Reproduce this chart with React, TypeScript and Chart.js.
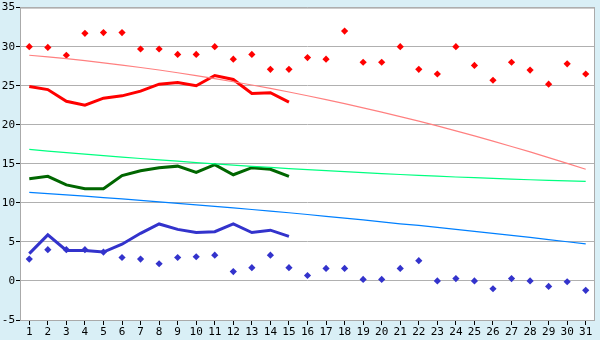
import React, { useEffect, useRef } from "react";
import { Chart, registerables } from "chart.js";

Chart.register(...registerables);

const days = Array.from({ length: 31 }, (_, i) => String(i + 1));

const maxObs = [30.0, 29.9, 28.9, 31.7, 31.8, 31.8, 29.7, 29.7, 29.0, 29.0, 30.0, 28.4, 29.0, 27.1, 27.1,
  28.6, 28.4, 32.0, 28.0, 28.0, 30.0, 27.1, 26.5, 30.0, 27.6, 25.7, 28.0, 27.0, 25.2, 27.8, 26.5];
const minObs = [2.8, 4.0, 4.0, 4.0, 3.7, 3.0, 2.8, 2.2, 3.0, 3.1, 3.3, 1.2, 1.7, 3.3, 1.7,
  0.7, 1.6, 1.6, 0.2, 0.2, 1.6, 2.6, 0.0, 0.3, 0.0, -1.0, 0.3, 0.0, -0.7, -0.1, -1.2];
const maxLine = [24.9, 24.5, 23.0, 22.5, 23.4, 23.7, 24.3, 25.2, 25.4, 25.0, 26.3, 25.8, 24.0, 24.1, 22.9];
const meanLine = [13.1, 13.4, 12.3, 11.8, 11.8, 13.5, 14.1, 14.5, 14.7, 13.9, 14.9, 13.6, 14.5, 14.3, 13.4];
const minLine = [3.5, 5.9, 3.9, 3.9, 3.7, 4.7, 6.1, 7.3, 6.6, 6.2, 6.3, 7.3, 6.2, 6.5, 5.7];
const maxTrend = [28.9, 28.69, 28.46, 28.2, 27.93, 27.64, 27.33, 27.01, 26.66, 26.3, 25.91, 25.51, 25.09, 24.65, 24.19,
  23.71, 23.22, 22.7, 22.17, 21.62, 21.05, 20.46, 19.85, 19.22, 18.57, 17.91, 17.22, 16.52, 15.8, 15.06, 14.3];
const meanTrend = [16.84, 16.63, 16.43, 16.24, 16.04, 15.86, 15.68, 15.5, 15.33, 15.16, 15.0, 14.84, 14.68, 14.54, 14.39,
  14.25, 14.12, 13.99, 13.86, 13.75, 13.63, 13.52, 13.41, 13.31, 13.22, 13.13, 13.04, 12.96, 12.88, 12.81, 12.74];
const minTrend = [11.34, 11.18, 11.02, 10.85, 10.68, 10.5, 10.31, 10.13, 9.94, 9.75, 9.55, 9.35, 9.15, 8.95, 8.73,
  8.51, 8.28, 8.05, 7.81, 7.57, 7.32, 7.11, 6.87, 6.61, 6.36, 6.1, 5.84, 5.57, 5.3, 5.02, 4.75];
const yTicks = { min: -5, max: 35, step: 5 };

const FONT = { family: "'DejaVu Sans Mono', monospace", size: 11 };

const bgPlugin = {
  id: "bg",
  beforeDraw(chart: any) {
    const { ctx, width, height, chartArea } = chart;
    ctx.save();
    ctx.fillStyle = "#d9eff6";
    ctx.fillRect(0, 0, width, height);
    ctx.fillStyle = "#ffffff";
    ctx.fillRect(chartArea.left, chartArea.top, chartArea.right - chartArea.left, chartArea.bottom - chartArea.top);
    ctx.restore();
  },
  afterDatasetsDraw(chart: any) {
    const { ctx, chartArea } = chart;
    ctx.save();
    ctx.strokeStyle = "#aaaaaa";
    ctx.lineWidth = 1;
    ctx.strokeRect(chartArea.left + 0.5, chartArea.top + 0.5, chartArea.right - chartArea.left - 1, chartArea.bottom - chartArea.top);
    ctx.restore();
  },
};

export default function App() {
  const ref = useRef<HTMLCanvasElement | null>(null);
  useEffect(() => {
    document.body.style.margin = "0";
    const line = (label: string, data: number[], color: string, width: number) => ({
      type: "line" as const,
      label,
      data,
      borderColor: color,
      backgroundColor: color,
      borderWidth: width,
      pointRadius: 0,
      tension: 0,
      fill: false,
    });
    const dots = (label: string, data: number[], color: string) => ({
      type: "line" as const,
      label,
      data,
      showLine: false,
      borderColor: color,
      backgroundColor: color,
      pointStyle: "rectRot",
      pointRadius: 3.6,
      pointBorderWidth: 0,
    });
    const chart = new Chart(ref.current!, {
      type: "line",
      data: {
        labels: days,
        datasets: [
          line("maxTrend", maxTrend, "#ff8080", 1.2),
          line("meanTrend", meanTrend, "#00ff80", 1.2),
          line("minTrend", minTrend, "#0080ff", 1.2),
          line("max", maxLine, "#ff0000", 3),
          line("mean", meanLine, "#006600", 3),
          line("min", minLine, "#3333cc", 3),
          dots("maxObs", maxObs, "#ff0000"),
          dots("minObs", minObs, "#3333cc"),
        ] as any,
      },
      plugins: [bgPlugin],
      options: {
        responsive: false,
        animation: false,
        layout: { padding: { top: 5, right: 5, left: 0, bottom: 0 } },
        plugins: { legend: { display: false }, tooltip: { enabled: false } },
        scales: {
          x: {
            offset: true,
            grid: { display: true, drawOnChartArea: false, drawTicks: true, tickLength: 5, tickColor: "#000000", offset: false },
            border: { display: false },
            ticks: { color: "#000000", font: FONT, padding: 1, maxRotation: 0, autoSkip: false },
            afterFit(scale: any) { scale.height = 20; },
          },
          y: {
            min: yTicks.min,
            max: yTicks.max,
            grid: { color: "#b0b0b0", tickColor: "#000000", tickLength: 4, lineWidth: 1 },
            border: { display: false },
            ticks: { stepSize: yTicks.step, color: "#000000", font: FONT, padding: 1 },
            afterFit(scale: any) { scale.width = 20; },
          },
        },
      },
    });
    return () => chart.destroy();
  }, []);
  return <canvas ref={ref} width={600} height={340} style={{ display: "block" }} />;
}
